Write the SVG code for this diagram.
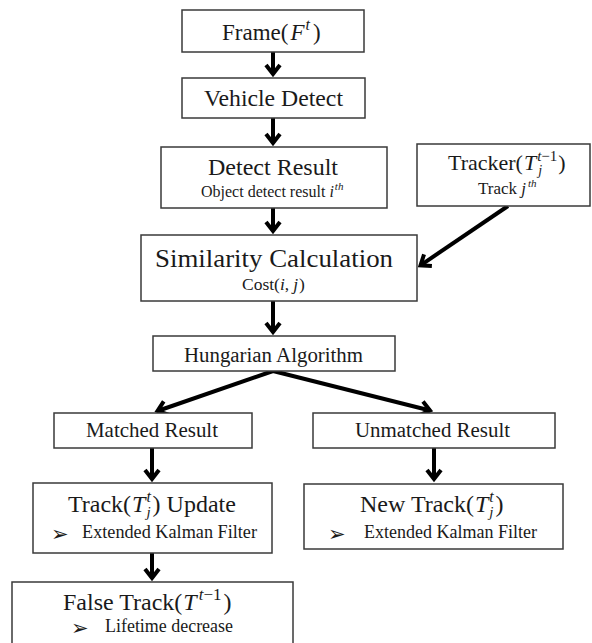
<svg xmlns="http://www.w3.org/2000/svg" width="592" height="643" viewBox="0 0 592 643" font-family="'Liberation Serif', 'Times New Roman', serif">
<style>
.box{fill:#fff;stroke:#3a3a3a;stroke-width:1.5}
text{font-family:"Liberation Serif","Times New Roman",serif;fill:#1a1a1a}
.m{font-style:italic}
text.bul{font-family:"DejaVu Sans",sans-serif;font-size:21px}
.conn{fill:none;stroke:#000;stroke-width:4}
</style>
<defs>
<marker id="ah" markerUnits="userSpaceOnUse" markerWidth="30" markerHeight="30" viewBox="-15 -15 30 30" refX="0" refY="0" orient="auto" overflow="visible">
<path d="M-9,-7 L0,0 L-9,7" fill="none" stroke="#000" stroke-width="4" stroke-linejoin="miter"/>
</marker>
</defs>
<rect width="592" height="643" fill="#fff"/>

<g id="connectors">
<line class="conn" x1="273" y1="52" x2="273" y2="74" marker-end="url(#ah)"/>
<line class="conn" x1="273" y1="118" x2="273" y2="143" marker-end="url(#ah)"/>
<line class="conn" x1="273" y1="208" x2="273" y2="231" marker-end="url(#ah)"/>
<line class="conn" x1="508" y1="206" x2="420.5" y2="265.3" marker-end="url(#ah)"/>
<line class="conn" x1="273" y1="301" x2="273" y2="332" marker-end="url(#ah)"/>
<line class="conn" x1="273" y1="371" x2="157.5" y2="411" marker-end="url(#ah)"/>
<line class="conn" x1="273" y1="371" x2="430" y2="410.5" marker-end="url(#ah)"/>
<line class="conn" x1="152" y1="448" x2="152" y2="479" marker-end="url(#ah)"/>
<line class="conn" x1="434" y1="448" x2="434" y2="479" marker-end="url(#ah)"/>
<line class="conn" x1="152" y1="553" x2="152" y2="578" marker-end="url(#ah)"/>
</g>

<g id="frame">
<rect class="box" x="182" y="10" width="182" height="42"/>
<text x="222" y="40" font-size="23">Frame(<tspan class="m" dx="2">F</tspan><tspan class="m" font-size="16" dy="-10" dx="1">t</tspan><tspan dy="10" dx="3">)</tspan></text>
</g>

<g id="vehicle-detect">
<rect class="box" x="182" y="78" width="183" height="40"/>
<text x="204" y="106" font-size="23" textLength="139" lengthAdjust="spacingAndGlyphs">Vehicle Detect</text>
</g>

<g id="detect-result">
<rect class="box" x="161" y="147" width="226" height="61"/>
<text x="208" y="175" font-size="24" textLength="130" lengthAdjust="spacingAndGlyphs">Detect Result</text>
<text x="201" y="197" font-size="16">Object detect result <tspan class="m">i</tspan><tspan class="m" font-size="11" dy="-7" dx="1">th</tspan></text>
</g>

<g id="tracker">
<rect class="box" x="417" y="144" width="173" height="62"/>
<text x="448" y="170" font-size="22">Tracker(<tspan class="m" dx="1">T</tspan><tspan class="m" font-size="15" dy="-9" dx="1">t</tspan><tspan font-size="15">−1</tspan><tspan class="m" font-size="14" dx="-19" dy="14">j</tspan><tspan dy="-5" dx="16">)</tspan></text>
<text x="478" y="194" font-size="17">Track <tspan class="m">j</tspan><tspan class="m" font-size="11" dy="-7" dx="2">th</tspan></text>
</g>

<g id="similarity">
<rect class="box" x="141" y="235" width="276" height="66"/>
<text x="155" y="267" font-size="26" textLength="238" lengthAdjust="spacingAndGlyphs">Similarity Calculation</text>
<text x="242" y="290" font-size="17.5">Cost(<tspan class="m">i</tspan>,<tspan class="m" dx="4">j</tspan><tspan dx="1">)</tspan></text>
</g>

<g id="hungarian">
<rect class="box" x="153" y="336" width="242" height="35"/>
<text x="184" y="362" font-size="20.5" textLength="179" lengthAdjust="spacingAndGlyphs">Hungarian Algorithm</text>
</g>

<g id="matched">
<rect class="box" x="54" y="413" width="198" height="35"/>
<text x="86" y="437" font-size="21" textLength="132" lengthAdjust="spacingAndGlyphs">Matched Result</text>
</g>

<g id="unmatched">
<rect class="box" x="313" y="413" width="242" height="35"/>
<text x="355" y="437" font-size="20.5" textLength="155" lengthAdjust="spacingAndGlyphs">Unmatched Result</text>
</g>

<g id="track-update">
<rect class="box" x="33" y="483" width="239" height="70"/>
<text x="68" y="512" font-size="24">Track(<tspan class="m" dx="1">T</tspan><tspan class="m" font-size="16" dy="-10" dx="1">t</tspan><tspan class="m" font-size="15" dx="-4.5" dy="15">j</tspan><tspan dy="-5" dx="2">)</tspan> Update</text>
<text class="bul" x="51" y="541">➢</text>
<text x="82" y="538" font-size="18" textLength="175" lengthAdjust="spacingAndGlyphs">Extended Kalman Filter</text>
</g>

<g id="new-track">
<rect class="box" x="304" y="484" width="259" height="65"/>
<text x="360" y="512" font-size="24">New Track(<tspan class="m" dx="1">T</tspan><tspan class="m" font-size="16" dy="-10" dx="1">t</tspan><tspan class="m" font-size="15" dx="-4.5" dy="15">j</tspan><tspan dy="-5" dx="2">)</tspan></text>
<text class="bul" x="328" y="541">➢</text>
<text x="364" y="538" font-size="18" textLength="173" lengthAdjust="spacingAndGlyphs">Extended Kalman Filter</text>
</g>

<g id="false-track">
<rect class="box" x="12" y="582" width="281" height="75"/>
<text x="63" y="610" font-size="24">False Track(<tspan class="m" dx="1">T</tspan><tspan class="m" font-size="17" dy="-10" dx="2">t</tspan><tspan font-size="17">−1</tspan><tspan dy="10" dx="2">)</tspan></text>
<text class="bul" x="71" y="635">➢</text>
<text x="105" y="632" font-size="18" textLength="128" lengthAdjust="spacingAndGlyphs">Lifetime decrease</text>
</g>
</svg>
